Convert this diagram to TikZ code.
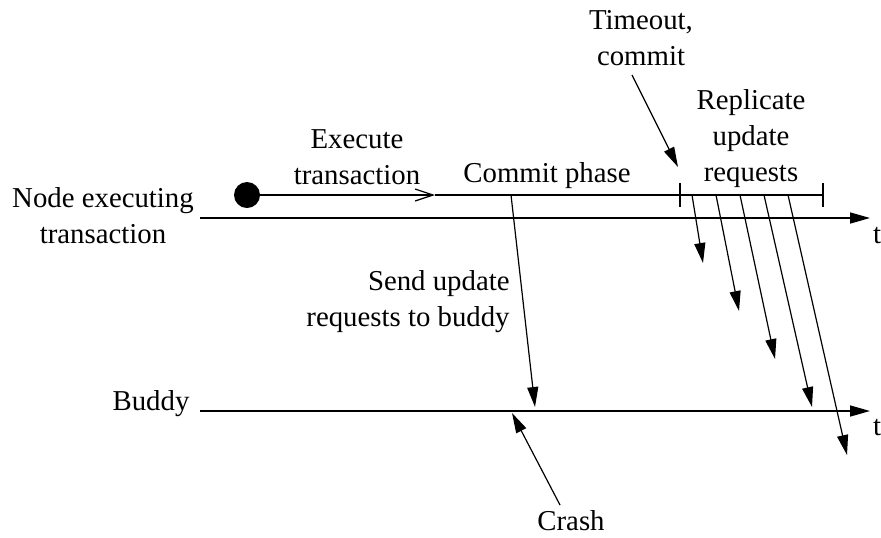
\documentclass[tikz,border=0pt]{standalone}
\usepackage{fontspec}
\setmainfont{Liberation Serif}
\usetikzlibrary{arrows.meta,positioning}

\tikzset{
  lbl/.style={font=\fontsize{14.4}{18}\selectfont, align=center, inner sep=0pt},
  msg/.style={-{Triangle[length=10pt,width=5.5pt]}, line width=0.6pt},
  timeaxis/.style={-{Triangle[length=10pt,width=5.5pt]}, line width=0.8pt},
}

\begin{document}
\begin{tikzpicture}[x=0.5pt,y=-0.5pt]
  \useasboundingbox (0,0) rectangle (881,537);
  % labels
  \node[lbl] (nodeexec) at (103,216) {Node executing\\transaction};
  \node[lbl, anchor=base] (buddy) at (151,410) {Buddy};
  \node[lbl] (execute) at (357,157) {Execute\\transaction};
  \node[lbl, anchor=base] (commitphase) at (547,182) {Commit phase};
  \node[lbl] (timeout) at (641,38) {Timeout,\\commit};
  \node[lbl] (replicate) at (751,139) {Replicate\\update\\requests};
  \node[lbl, align=right, anchor=east] (send) at (510,302) {Send update\\requests to buddy};
  \node[lbl, anchor=base] (crash) at (571,530) {Crash};
  \node[lbl, anchor=base] (ttop) at (877,243) {t};
  \node[lbl, anchor=base] (tbot) at (877,435) {t};

  % time axes
  \coordinate (topL) at (200,218);
  \coordinate (topR) at (870,218);
  \coordinate (botL) at (200,411);
  \coordinate (botR) at (870,411);
  \draw[timeaxis] (topL) -- (topR);
  \draw[timeaxis] (botL) -- (botR);

  % execution line
  \node[circle, fill, inner sep=0pt, minimum size=13pt] (dot) at (247,195) {};
  \coordinate (exectip) at (435,195);
  \coordinate (tickL) at (680,195);
  \coordinate (tickR) at (823,195);
  \draw[line width=0.6pt, -{Straight Barb[length=9pt,width=6pt]}] (dot) -- (exectip);
  \draw[line width=0.6pt] (exectip) -- (tickL) -- (tickR);
  \draw[line width=0.6pt] (tickL) ++(0,-12) -- ++(0,24);
  \draw[line width=0.6pt] (tickR) ++(0,-12) -- ++(0,24);

  % messages
  \coordinate (cstart) at (511,195);
  \coordinate (cend) at (535,407);
  \draw[msg] (cstart) -- (cend);
  \coordinate (tostart) at (632,75);
  \coordinate (toend) at (678,167);
  \draw[msg] (tostart) -- (toend);
  \coordinate (crstart) at (560,505);
  \coordinate (crend) at (512,413);
  \draw[msg] (crstart) -- (crend);
  \foreach \sx/\ex/\ey [count=\i] in {692/703/263, 716/739/311, 740/775/359, 764/812/407, 788/847/455} {
    \coordinate (rs\i) at (\sx,195);
    \coordinate (re\i) at (\ex,\ey);
    \draw[msg] (rs\i) -- (re\i);
  }
\end{tikzpicture}
\end{document}
